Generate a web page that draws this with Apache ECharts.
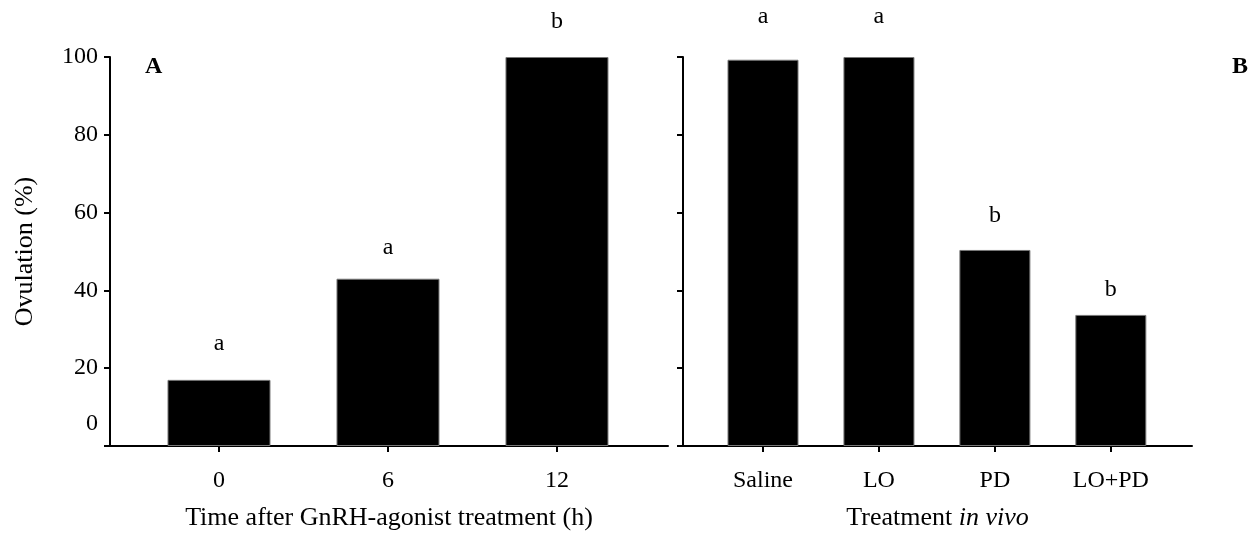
<!DOCTYPE html>
<html>
<head>
<meta charset="utf-8">
<script src="https://cdn.jsdelivr.net/npm/echarts@6/dist/echarts.min.js"></script>
<style>html,body{margin:0;padding:0;background:#fff;}#c{width:1253px;height:533px;}</style>
</head>
<body>
<div id="c"></div>
<script>
// Panel A
var categoriesA = ['0', '6', '12'];
var valuesA = [17, 43, 100];
var lettersA = ['a', 'a', 'b'];
// Panel B
var categoriesB = ['Saline', 'LO', 'PD', 'LO+PD'];
var valuesB = [99.3, 100, 50.4, 33.7];
var lettersB = ['a', 'a', 'b', 'b'];
// Y ticks
var yTicks = [0, 20, 40, 60, 80, 100];

// ---- styling ----
var FONT = 'Liberation Serif';
var TICK = 24, TITLE = 26;
var labelGapA = [24, 19, 23];
var labelGapB = [31, 28, 22, 13];
var chart = echarts.init(document.getElementById('c'));

function idx(arr) { return arr.map(function (_, i) { return i; }); }

var axisLineStyle = { color: '#000', width: 2 };

var option = {
  animation: false,
  backgroundColor: '#fff',
  textStyle: { fontFamily: FONT, color: '#000' },
  graphic: [
    { type: 'text', left: 145, top: 55, style: { text: 'A', font: 'bold 24px "Liberation Serif"', fill: '#000' } },
    { type: 'text', left: 1232, top: 55, style: { text: 'B', font: 'bold 24px "Liberation Serif"', fill: '#000' } }
  ],
  grid: [
    { left: 110, top: 57, width: 558, bottom: 87, containLabel: false, outerBoundsMode: 'none' },
    { left: 683, top: 57, width: 509, bottom: 87, containLabel: false, outerBoundsMode: 'none' }
  ],
  xAxis: [
    {
      type: 'value', gridIndex: 0, min: -0.645, max: 2.657,
      name: 'Time after GnRH-agonist treatment (h)', nameLocation: 'middle', nameGap: 59,
      nameTextStyle: { fontFamily: FONT, fontSize: TITLE, color: '#000' },
      axisLine: { show: true, onZero: false, lineStyle: axisLineStyle },
      axisTick: { show: true, customValues: idx(categoriesA), length: 6, inside: false, lineStyle: { color: '#000', width: 2 } },
      axisLabel: { customValues: idx(categoriesA), margin: 23, fontFamily: FONT, fontSize: TICK, color: '#000',
        formatter: function (v) { return categoriesA[Math.round(v)]; } },
      splitLine: { show: false }
    },
    {
      type: 'value', gridIndex: 1, min: -0.69, max: 3.70,
      name: '{n|Treatment }{i|in vivo}', nameLocation: 'middle', nameGap: 59,
      nameTextStyle: { fontFamily: FONT, fontSize: TITLE, color: '#000',
        rich: { n: { fontFamily: FONT, fontSize: TITLE, color: '#000' }, i: { fontFamily: FONT, fontSize: TITLE, fontStyle: 'italic', color: '#000' } } },
      axisLine: { show: true, onZero: false, lineStyle: axisLineStyle },
      axisTick: { show: true, customValues: idx(categoriesB), length: 6, lineStyle: { color: '#000', width: 2 } },
      axisLabel: { customValues: idx(categoriesB), margin: 23, fontFamily: FONT, fontSize: TICK, color: '#000',
        formatter: function (v) { return categoriesB[Math.round(v)]; } },
      splitLine: { show: false }
    }
  ],
  yAxis: [
    {
      type: 'value', gridIndex: 0, min: 0, max: 100, interval: 20,
      name: 'Ovulation (%)', nameLocation: 'middle', nameGap: 72, nameRotate: 90,
      nameTextStyle: { fontFamily: FONT, fontSize: TITLE, color: '#000' },
      axisLine: { show: true, onZero: false, lineStyle: axisLineStyle },
      axisTick: { show: true, length: 6, lineStyle: { color: '#000', width: 2 } },
      axisLabel: { margin: 12, fontFamily: FONT, fontSize: TICK, color: '#000', lineHeight: 44,
        formatter: function (v) { return v === 0 ? '0\n\u00a0' : String(v); } },
      splitLine: { show: false }
    },
    {
      type: 'value', gridIndex: 1, min: 0, max: 100, interval: 20,
      axisLine: { show: true, onZero: false, lineStyle: axisLineStyle },
      axisTick: { show: true, length: 6, lineStyle: { color: '#000', width: 2 } },
      axisLabel: { show: false },
      splitLine: { show: false }
    }
  ],
  series: [
    {
      type: 'bar', xAxisIndex: 0, yAxisIndex: 0, barWidth: 103,
      itemStyle: { color: '#000', borderColor: '#777', borderWidth: 1 },
      label: { show: true, position: 'top', fontFamily: FONT, fontSize: TICK, color: '#000',
        formatter: function (p) { return lettersA[p.dataIndex]; } },
      data: valuesA.map(function (v, i) { return { value: [i, v], label: { distance: labelGapA[i] } }; })
    },
    {
      type: 'bar', xAxisIndex: 1, yAxisIndex: 1, barWidth: 71,
      itemStyle: { color: '#000', borderColor: '#777', borderWidth: 1 },
      label: { show: true, position: 'top', fontFamily: FONT, fontSize: TICK, color: '#000',
        formatter: function (p) { return lettersB[p.dataIndex]; } },
      data: valuesB.map(function (v, i) { return { value: [i, v], label: { distance: labelGapB[i] } }; })
    }
  ]
};
chart.setOption(option);
</script>
</body>
</html>
